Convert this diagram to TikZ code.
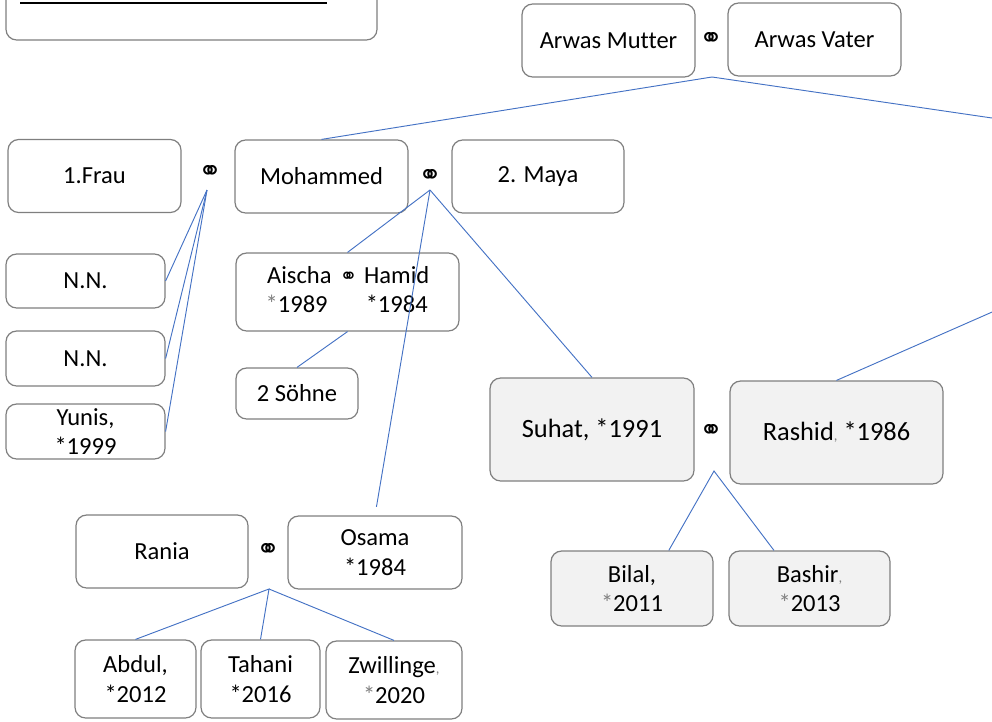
\documentclass[tikz,border=0pt]{standalone}
\usepackage{fontspec}
\setmainfont{Carlito}[Ligatures=NoCommon]
\newfontfamily\symfont{DejaVu Sans}
\usetikzlibrary{calc}
\definecolor{linkblue}{HTML}{4472C4}
\definecolor{boxgray}{HTML}{7F7F7F}
\definecolor{childfill}{HTML}{F2F2F2}
\newcommand\normsize{\fontsize{18.4}{22}\selectfont}
\newcommand\bigsize{\fontsize{19.8}{23}\selectfont}
\newcommand\ringfont{\symfont\fontsize{21}{21}\selectfont}
\newcommand\gsep{{\color{gray}\fontsize{11}{12}\selectfont,}}
\newcommand\gstar{{\color{gray}*}}

\begin{document}
\begin{tikzpicture}[x=0.75pt,y=-0.75pt,
    box/.style={draw=boxgray,line width=0.9pt,rounded corners=8pt,fill=white,
      inner sep=0pt,align=center,font=\normsize},
    shaded/.style={box,fill=childfill},
    sz/.style 2 args={minimum width=#1*0.75pt,minimum height=#2*0.75pt},
    ring/.style={inner sep=0pt,font=\ringfont},
    link/.style={draw=linkblue,line width=0.7pt}]
    \useasboundingbox (0,0) rectangle (992,721);
    \clip (0,0) rectangle (992,721);

    % title box, cut off at the top
    \node[box,sz={371}{100}] (legend) at (191.5,-10) {};
    \draw[line width=1.5pt] (20,3) -- (327,3);

    % grandparents
    \node[box,sz={173}{73}] (mutter) at (608.5,40.5) {Arwas Mutter};
    \node[ring] (r1) at (711,40) {⚭};
    \node[box,sz={173}{73}] (vater) at (814.5,39.5) {Arwas Vater};

    % parents
    \node[box,sz={173}{73}] (frau) at (94.5,176) {1.Frau};
    \node[ring] (r2) at (210,173) {⚭};
    \node[box,sz={173}{73}] (mohammed) at (321.5,176.5) {Mohammed};
    \node[ring] (r3) at (430,177) {⚭};
    \node[box,sz={172}{73}] (maya) at (538,176.5) {2. Maya};

    % children of the first wife
    \node[box,sz={159}{54}] (nn1) at (85.5,281) {N.N.};
    \node[box,sz={159}{55}] (nn2) at (85.5,358.5) {N.N.};
    \node[box,sz={159}{55}] (yunis) at (85.5,431.5) {Yunis,\\*1999};

    % children of Maya
    \node[box,sz={223}{78}] (aischa) at (347.5,292) {%
      \begin{tabular}{@{}c@{\hspace{5pt}}c@{\hspace{5pt}}c@{}}
        Aischa & {\fontsize{16}{16}\symfont ⚭} & Hamid\\
        \gstar1989\hspace{4pt} & & *1984
      \end{tabular}};
    \node[box,sz={122}{51}] (soehne) at (297,393.5) {2 Söhne};

    \node[shaded,sz={204}{103},font=\bigsize] (suhat) at (592,429.5) {Suhat, *1991};
    \node[ring] (r4) at (711,432) {⚭};
    \node[shaded,sz={213}{103},font=\bigsize] (rashid) at (836.5,432.5) {Rashid\gsep{} *1986};
    \node[shaded,sz={162}{75}] (bilal) at (632,588.5) {Bilal,\\\gstar2011};
    \node[shaded,sz={161}{75}] (bashir) at (809.5,588.5) {Bashir\gsep\\\gstar2013};

    \node[box,sz={172}{73}] (rania) at (162,551.5) {Rania};
    \node[ring] (r5) at (268,551) {⚭};
    \node[box,sz={174}{73}] (osama) at (375,552.5) {Osama\\*1984};
    \node[box,sz={121}{78}] (abdul) at (135.5,679) {Abdul,\\*2012};
    \node[box,sz={119}{78}] (tahani) at (260.5,679) {Tahani\\*2016};
    \node[box,sz={136}{78}] (zwillinge) at (394,680) {Zwillinge\gsep\\\gstar2020};

    % joints below the rings
    \coordinate (j1) at ($(r1)+(1,37)$);
    \coordinate (j2) at ($(r2)+(-3,17)$);
    \coordinate (j3) at ($(r3)+(0,13)$);
    \coordinate (j4) at ($(r4)+(3,39)$);
    \coordinate (j5) at ($(r5)+(1,38)$);
    \coordinate (offA) at (1050,126.5);
    \coordinate (offB) at (1050,286.6);

    \draw[link] (mohammed.north) -- (j1) -- (offA);
    \draw[link] (j2) -- (nn1.east);
    \draw[link] (j2) -- (nn2.east);
    \draw[link] (j2) -- (yunis.east);
    \draw[link] (j3) -- (aischa.north);
    \draw[link,shorten >=6.5pt] (j3) -- (osama.north);
    \draw[link] (j3) -- (suhat.north);
    \draw[link] (aischa.south) -- (soehne.north);
    \draw[link] (offB) -- (rashid.north);
    \draw[link] (bilal.46) -- (j4) -- (bashir.133);
    \draw[link] (abdul.north) -- (j5) -- (tahani.north);
    \draw[link] (j5) -- (zwillinge.north);
  \end{tikzpicture}
\end{document}
